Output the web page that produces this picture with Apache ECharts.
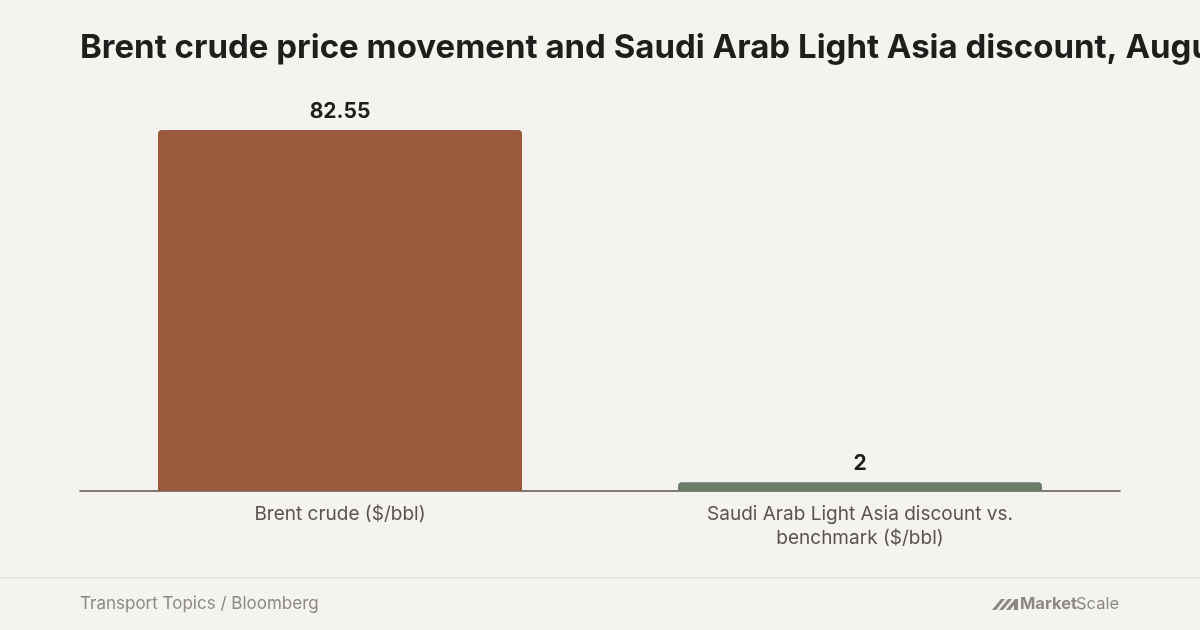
<!DOCTYPE html>
<html>
<head>
<meta charset="utf-8">
<script src="https://cdn.jsdelivr.net/npm/echarts@6/dist/echarts.min.js"></script>
<style>
html,body{margin:0;padding:0;background:#F4F3EF;}
#chart{width:1200px;height:630px;}
</style>
</head>
<body>
<div id="chart"></div>
<script>
const titleText = 'Brent crude price movement and Saudi Arab Light Asia discount, August';
const categories = ['Brent crude ($/bbl)', 'Saudi Arab Light Asia discount vs.\nbenchmark ($/bbl)'];
const values = [82.55, 2];
const barColors = ['#9A5A3E', '#6B7D67'];
const sourceText = 'Transport Topics / Bloomberg';

const chart = echarts.init(document.getElementById('chart'), null, {renderer: 'canvas'});
const option = {
  backgroundColor: '#F4F3EF',
  animation: false,
  title: {
    text: titleText,
    left: 75,
    top: 27,
    textStyle: {fontFamily: 'Inter', fontWeight: 'bold', fontSize: 33, color: '#1E1E1C'}
  },
  grid: {left: 80, right: 80, top: 130, bottom: 139, containLabel: false},
  xAxis: {
    type: 'category',
    data: categories,
    axisLine: {show: true, lineStyle: {color: '#5A544E', width: 1.5}},
    axisTick: {show: false},
    axisLabel: {
      color: '#5A544E', fontFamily: 'Inter', fontSize: 19, lineHeight: 24, margin: 11,
      interval: 0
    }
  },
  yAxis: {
    type: 'value',
    min: 0,
    max: 'dataMax',
    show: false,
    splitLine: {show: false}
  },
  series: [{
    type: 'bar',
    barWidth: '70%',
    data: values.map((v, i) => ({value: v, itemStyle: {color: barColors[i]}})),
    itemStyle: {borderRadius: [4, 4, 0, 0]},
    label: {
      show: true, position: 'top', distance: 8,
      color: '#1E1E1C', fontFamily: 'Inter', fontWeight: 'bold', fontSize: 21
    }
  }],
  graphic: [
    {type: 'rect', shape: {x: 0, y: 577, width: 1200, height: 2}, style: {fill: '#E6E4DF'}, silent: true},
    {type: 'text', left: 80, top: 595, style: {text: sourceText, fill: '#8C8985', font: '17px Inter'}},
    {type: 'polygon', shape: {points: [[992,610],[1001,599],[1005,599],[996,610]]}, style: {fill: '#8C8985'}},
    {type: 'polygon', shape: {points: [[999,610],[1008,599],[1012,599],[1003,610]]}, style: {fill: '#8C8985'}},
    {type: 'polygon', shape: {points: [[1006,610],[1015,599],[1018,599],[1018,610],[1014,610],[1014,605],[1010,610]]}, style: {fill: '#8C8985'}},
    {type: 'text', left: 1020, top: 596, style: {text: 'Market', fill: '#8C8985', font: 'bold 16.5px Inter'}},
    {type: 'text', left: 1076, top: 596, style: {text: 'Scale', fill: '#8C8985', font: '16.5px Inter'}}
  ]
};
chart.setOption(option);
</script>
</body>
</html>
